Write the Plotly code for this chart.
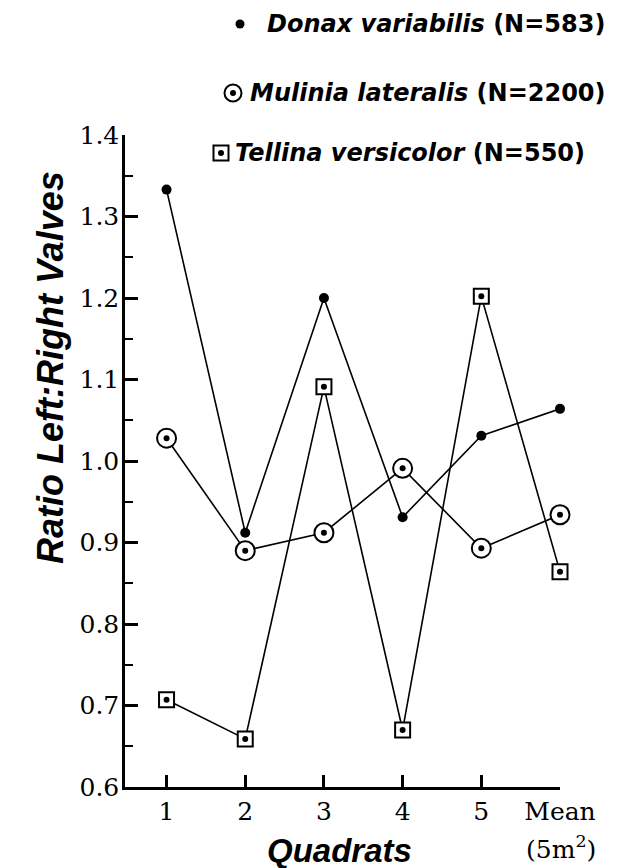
import plotly.graph_objects as go

# Quadrat positions along the x axis (6 = mean over the 5 m² transect)
quadrats = [1, 2, 3, 4, 5, 6]
quadrat_labels = ["1", "2", "3", "4", "5", "Mean"]

# Ratio of left to right valves per quadrat
donax = [1.333, 0.912, 1.200, 0.931, 1.031, 1.064]
mulinia = [1.028, 0.890, 0.912, 0.991, 0.893, 0.934]
tellina = [0.707, 0.659, 1.091, 0.670, 1.202, 0.864]

species = ["Donax variabilis", "Mulinia lateralis", "Tellina versicolor"]
counts = [583, 2200, 550]

y_ticks = [0.6, 0.7, 0.8, 0.9, 1.0, 1.1, 1.2, 1.3, 1.4]

W, H = 621, 868
L, R, T, B = 125, 61, 135, 81
PW, PH = W - L - R, H - T - B


def fx(px):
    return (px - L) / PW


def fy(py):
    return (H - B - py) / PH


BLACK = "#000000"
fig = go.Figure()

# connecting lines
for vals in (donax, mulinia, tellina):
    fig.add_trace(go.Scatter(x=quadrats, y=vals, mode="lines",
                             line=dict(color=BLACK, width=1.6),
                             showlegend=False, hoverinfo="skip",
                             cliponaxis=False))

# open markers with white fill
fig.add_trace(go.Scatter(x=quadrats, y=mulinia, mode="markers",
                         marker=dict(symbol="circle", size=19, color="white",
                                     line=dict(color=BLACK, width=2)),
                         showlegend=False, name=species[1], cliponaxis=False))
fig.add_trace(go.Scatter(x=quadrats, y=tellina, mode="markers",
                         marker=dict(symbol="square", size=15, color="white",
                                     line=dict(color=BLACK, width=2)),
                         showlegend=False, name=species[2], cliponaxis=False))
# centre dots
for vals in (mulinia, tellina):
    fig.add_trace(go.Scatter(x=quadrats, y=vals, mode="markers",
                             marker=dict(symbol="circle", size=6, color=BLACK,
                                         line=dict(width=0)),
                             showlegend=False, hoverinfo="skip",
                             cliponaxis=False))
fig.add_trace(go.Scatter(x=quadrats, y=donax, mode="markers",
                         marker=dict(symbol="circle", size=10, color=BLACK,
                                     line=dict(width=0)),
                         showlegend=False, name=species[0], cliponaxis=False))

axis_font = dict(family="DejaVu Serif", size=25, color=BLACK)

fig.update_xaxes(range=[0.472, 6.0], tickvals=quadrats, ticktext=quadrat_labels,
                 ticks="inside", ticklen=12, tickwidth=2.5, tickcolor=BLACK,
                 showline=True, linewidth=2.5, linecolor=BLACK,
                 showgrid=False, zeroline=False, tickfont=axis_font,
                 ticklabelstandoff=0)
fig.update_yaxes(range=[0.6, 1.4], tickvals=y_ticks,
                 ticktext=[f"{v:.1f}" for v in y_ticks],
                 ticks="inside", ticklen=13, tickwidth=2.5, tickcolor=BLACK,
                 showline=True, linewidth=2.5, linecolor=BLACK,
                 showgrid=False, zeroline=False, tickfont=axis_font,
                 minor=dict(ticks="inside", ticklen=8, tickwidth=2,
                            tickcolor=BLACK, dtick=0.05, tick0=0.6),
                 ticklabelstandoff=-2)

annotations = []
shapes = []

# axis titles
title_font = dict(family="Liberation Sans", size=33, color=BLACK)
annotations.append(dict(text="<b><i>Quadrats</i></b>", x=fx(339), y=fy(850),
                        xref="paper", yref="paper", showarrow=False,
                        xanchor="center", yanchor="middle", font=title_font))
annotations.append(dict(text="<b><i>Ratio Left:Right Valves</i></b>",
                        x=fx(50), y=fy(368), xref="paper", yref="paper",
                        showarrow=False, textangle=-90, xanchor="center",
                        yanchor="middle",
                        font=dict(family="Liberation Sans", size=36, color=BLACK)))
annotations.append(dict(text="(5m<sup>2</sup>)", x=fx(561), y=fy(847),
                        xref="paper", yref="paper", showarrow=False,
                        xanchor="center", yanchor="middle", font=axis_font))

# key
key_font = dict(family="DejaVu Sans", size=24, color=BLACK)
key_rows = [(24, 265, 240), (93, 248, 233), (153, 233, 221)]
for (row_y, text_x, sym_x), name, n in zip(key_rows, species, counts):
    annotations.append(dict(text=f"<b><i>{name}</i> (N={n})</b>",
                            x=fx(text_x), y=fy(row_y), xref="paper", yref="paper",
                            showarrow=False, xanchor="left", yanchor="middle",
                            font=key_font))


# key symbols
def sym(kind, px, py, half, fill, lw):
    shapes.append(dict(type=kind, xref="paper", yref="paper",
                       xsizemode="pixel", ysizemode="pixel",
                       xanchor=fx(px), yanchor=fy(py),
                       x0=-half, x1=half, y0=-half, y1=half,
                       fillcolor=fill, line=dict(color=BLACK, width=lw)))


sym("circle", key_rows[0][2], key_rows[0][0], 4.5, BLACK, 0)
sym("circle", key_rows[1][2], key_rows[1][0], 8.5, "white", 2)
sym("circle", key_rows[1][2], key_rows[1][0], 3, BLACK, 0)
sym("rect", key_rows[2][2], key_rows[2][0], 7.5, "white", 2)
sym("circle", key_rows[2][2], key_rows[2][0], 3, BLACK, 0)

fig.update_layout(width=W, height=H,
                  margin=dict(l=L, r=R, t=T, b=B, pad=0),
                  paper_bgcolor="white", plot_bgcolor="white",
                  showlegend=False, annotations=annotations, shapes=shapes)

fig.write_html("out.html")
